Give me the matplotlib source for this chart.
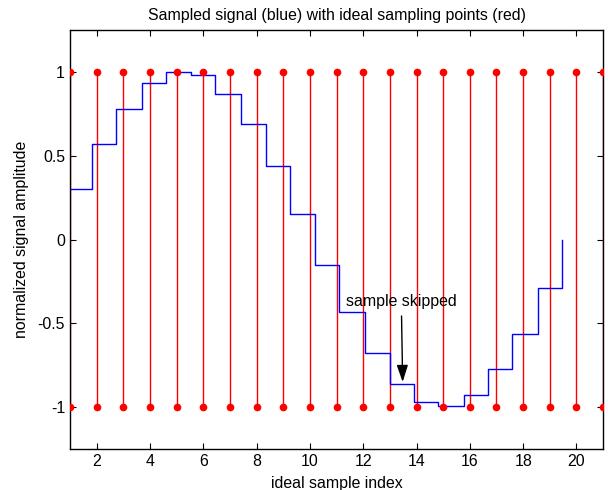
import matplotlib
matplotlib.use("Agg")
import matplotlib.pyplot as plt
import numpy as np

plt.rcParams['font.family'] = ['Liberation Sans', 'DejaVu Sans']

# ideal sampling points (red stems)
ideal_idx = list(range(1, 22))
stem_top = 1.0
stem_bottom = -1.0

# sampled signal (blue staircase)
step_x = [1.0, 1.82, 2.72, 3.71, 4.62, 5.56, 6.46, 7.43, 8.34, 9.27, 10.20,
          11.10, 12.06, 12.99, 13.91, 14.82, 15.78, 16.69, 17.60, 18.54, 19.44]
step_y = [0.30, 0.57, 0.78, 0.935, 1.0, 0.98, 0.87, 0.69, 0.44, 0.15, -0.15,
          -0.43, -0.68, -0.86, -0.97, -0.994, -0.93, -0.775, -0.565, -0.29, 0.0]

xticks = [2, 4, 6, 8, 10, 12, 14, 16, 18, 20]
yticks = [-1, -0.5, 0, 0.5, 1]
yticklabels = ['-1', '-0.5', '0', '0.5', '1']

FS = 11.4

fig = plt.figure(figsize=(6.08, 4.90), dpi=100)
ax = fig.add_axes([0.115, 0.0837, 0.877, 0.855])

ax.vlines(ideal_idx, stem_bottom, stem_top, colors='#ff0000', lw=1.0, zorder=2)
ax.plot(ideal_idx, [stem_top] * len(ideal_idx), 'o', color='#ff0000', ms=4.5, zorder=3)
ax.plot(ideal_idx, [stem_bottom] * len(ideal_idx), 'o', color='#ff0000', ms=4.5, zorder=3)

ax.step(step_x, step_y, where='post', color='#0000ff', lw=1.0, zorder=2.5)

ax.annotate('sample skipped', xy=(13.48, -0.85), xytext=(13.43, -0.37),
            ha='center', va='center', fontsize=FS,
            arrowprops=dict(arrowstyle='-|>,head_length=0.9,head_width=0.3',
                            color='black', lw=1.0, shrinkA=3, shrinkB=0))

ax.set_xlim(1, 21)
ax.set_ylim(-1.25, 1.25)
ax.set_xticks(xticks)
ax.set_yticks(yticks)
ax.set_yticklabels(yticklabels)
ax.tick_params(direction='in', top=True, right=True, labelsize=FS, length=4)
for s in ax.spines.values():
    s.set_linewidth(1.0)

ax.set_title('Sampled signal (blue) with ideal sampling points (red)', fontsize=FS, pad=7)
ax.set_xlabel('ideal sample index', fontsize=FS, labelpad=5)
ax.set_ylabel('normalized signal amplitude', fontsize=FS, labelpad=6)

fig.savefig('out.png', dpi=100)
